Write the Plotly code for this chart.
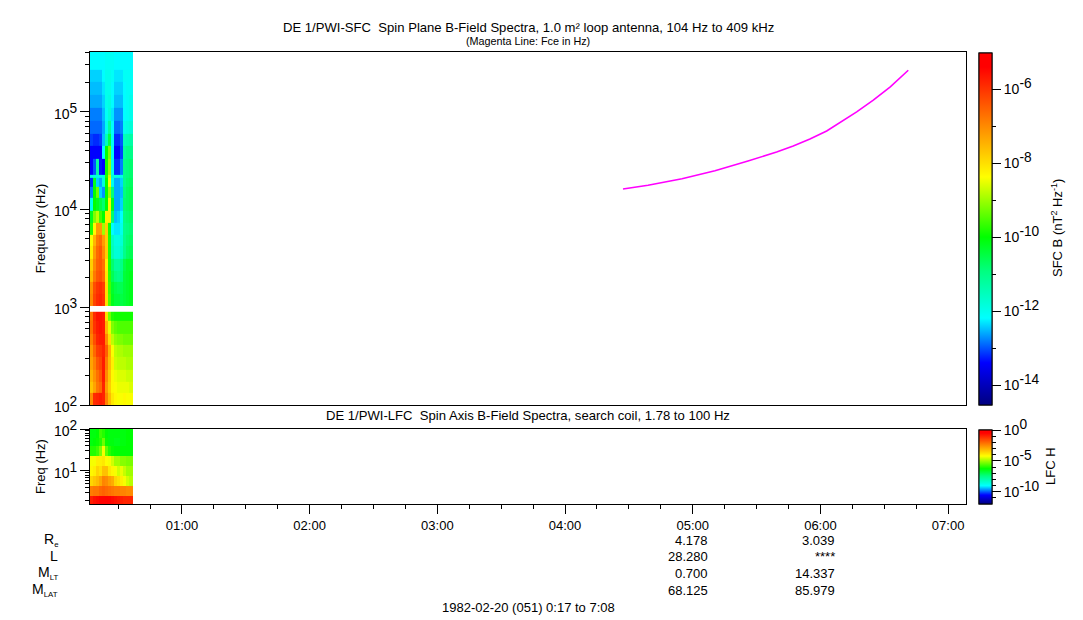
import plotly.graph_objects as go

# ---- data ----
HOUR_TICKS = [1, 2, 3, 4, 5, 6, 7]
HOUR_LABELS = ["01:00", "02:00", "03:00", "04:00", "05:00", "06:00", "07:00"]
TIME_RANGE = [0.28, 7.14]
TIME_EDGES = [0.28, 0.304, 0.327, 0.351, 0.374, 0.398, 0.421, 0.445, 0.468, 0.492, 0.515, 0.539, 0.562, 0.586, 0.617]

SFC_FREQ_EDGES = [100, 132, 174, 230, 309, 410, 540, 720, 889, 1023, 1360, 1800, 2380, 3160, 4200,
                  5560, 7370, 9790, 12990, 17200, 21000, 22600, 33000, 45000, 60000, 80000,
                  110000, 150000, 200000, 270000, 409000]
SFC_LOG_POWER = [
    [-7.0, -5.9, -5.8, -5.7, -5.8, -6.9, -7.6, -8.1, -8.3, -8.4, -8.4, -8.3, -8.4, -8.4],
    [-7.7, -7.3, -6.8, -6.6, -5.8, -7.2, -7.8, -8.3, -8.4, -8.5, -8.5, -8.5, -8.5, -8.6],
    [-7.5, -7.1, -6.7, -6.4, -5.7, -7.0, -7.7, -8.3, -8.5, -8.6, -8.6, -8.6, -8.7, -8.7],
    [-7.3, -6.9, -6.4, -6.2, -5.7, -6.8, -7.6, -8.2, -8.7, -8.8, -8.8, -8.8, -8.9, -8.9],
    [-7.2, -6.6, -6.1, -6.0, -5.8, -6.5, -7.5, -8.4, -8.8, -8.9, -8.9, -9.0, -9.0, -9.0],
    [-6.9, -6.3, -5.8, -5.7, -5.7, -7.0, -8.0, -8.8, -9.1, -9.2, -9.2, -9.3, -9.3, -9.3],
    [-6.7, -6.0, -5.7, -5.6, -5.7, -7.5, -8.5, -9.2, -9.4, -9.5, -9.5, -9.5, -9.5, -9.5],
    [-6.8, -5.9, -5.6, -5.6, -5.7, -8.0, -9.3, -9.8, -9.9, -9.9, -9.9, -9.9, -9.9, -9.9],
    [None] * 14,
    [-7.0, -6.2, -5.9, -5.8, -6.0, -8.0, -9.5, -10.2, -10.4, -10.4, -10.5, -10.4, -10.3, -10.2],
    [-7.1, -6.3, -6.0, -5.9, -6.1, -8.0, -9.6, -10.3, -10.5, -10.6, -10.6, -10.4, -10.3, -10.2],
    [-7.6, -6.8, -6.4, -6.3, -6.6, -8.1, -9.7, -10.6, -10.9, -11.0, -10.9, -10.4, -10.3, -10.2],
    [-7.8, -7.0, -6.5, -6.4, -6.7, -8.2, -9.8, -10.8, -11.2, -11.2, -11.0, -10.5, -10.3, -10.3],
    [-8.2, -7.2, -6.6, -6.4, -7.0, -7.8, -9.8, -11.5, -11.8, -11.8, -11.6, -11.0, -10.7, -10.6],
    [-8.4, -7.5, -6.8, -6.6, -7.2, -7.8, -9.8, -11.6, -11.9, -11.9, -11.8, -11.0, -10.8, -10.7],
    [-9.8, -8.3, -7.2, -7.2, -9.0, -7.8, -9.9, -12.2, -12.3, -12.3, -12.0, -11.0, -10.9, -10.8],
    [-10.2, -9.2, -8.8, -9.6, -10.0, -8.2, -8.2, -10.8, -12.5, -12.4, -12.2, -10.9, -10.8, -10.7],
    [-12.0, -10.0, -10.2, -10.5, -10.8, -10.0, -8.3, -10.2, -12.6, -12.6, -12.4, -10.8, -10.7, -10.6],
    [-12.8, -10.0, -9.3, -12.4, -12.7, -10.0, -9.0, -10.9, -12.6, -12.6, -12.5, -10.9, -10.7, -10.6],
    [-13.2, -10.2, -12.4, -12.6, -11.8, -10.0, -8.4, -12.0, -12.6, -12.6, -12.4, -11.0, -10.8, -10.7],
    [-11.9, -11.9, -11.9, -11.9, -11.9, -9.8, -8.6, -11.8, -11.9, -11.9, -11.9, -11.0, -10.9, -10.8],
    [-13.4, -13.0, -11.3, -13.3, -13.4, -9.9, -9.0, -12.0, -13.2, -13.2, -12.8, -11.0, -10.9, -10.8],
    [-13.4, -13.4, -13.4, -13.4, -12.2, -10.0, -9.2, -12.1, -13.4, -13.4, -13.1, -11.2, -11.0, -11.0],
    [-13.1, -13.2, -13.2, -13.1, -12.5, -11.5, -10.5, -12.1, -13.2, -13.2, -13.0, -11.5, -11.4, -11.3],
    [-12.9, -12.9, -12.9, -12.9, -12.6, -12.0, -11.2, -12.2, -12.9, -12.9, -12.8, -12.0, -11.9, -11.8],
    [-12.8, -12.8, -12.8, -12.8, -12.5, -12.1, -11.8, -12.3, -12.7, -12.7, -12.7, -12.2, -12.1, -12.0],
    [-12.6, -12.6, -12.6, -12.6, -12.4, -12.0, -11.9, -12.2, -12.5, -12.5, -12.5, -12.2, -12.1, -12.0],
    [-12.5, -12.5, -12.5, -12.5, -12.3, -12.0, -12.0, -12.2, -12.4, -12.4, -12.4, -12.2, -12.1, -12.1],
    [-12.4, -12.4, -12.4, -12.4, -12.2, -12.0, -12.0, -12.1, -12.3, -12.3, -12.3, -12.1, -12.1, -12.1],
    [-12.2, -12.2, -12.2, -12.2, -12.2, -12.1, -12.1, -12.1, -12.2, -12.2, -12.2, -12.2, -12.2, -12.2],
]

LFC_FREQ_EDGES = [1.63, 2.54, 4.4, 7.6, 13.1, 22.8, 39, 60, 100]
LFC_LOG_POWER = [
    [-0.9, -0.7, -0.6, -0.5, -0.5, -0.4, -0.5, -0.6, -0.7, -0.8, -0.9, -1.0, -1.0, -1.0],
    [-2.3, -2.2, -2.2, -2.0, -1.9, -2.0, -2.1, -2.2, -2.3, -2.3, -2.4, -2.4, -2.5, -2.5],
    [-3.6, -3.4, -3.2, -2.9, -2.4, -2.5, -2.8, -3.0, -3.6, -3.8, -4.0, -4.3, -4.6, -4.8],
    [-4.1, -4.0, -3.6, -3.8, -3.3, -3.3, -3.9, -4.1, -4.3, -4.6, -4.4, -4.7, -5.0, -5.0],
    [-4.3, -4.3, -4.0, -4.0, -3.9, -4.2, -4.3, -4.6, -5.0, -5.0, -5.2, -5.2, -5.3, -5.3],
    [-6.0, -6.0, -5.8, -5.3, -4.3, -5.5, -6.0, -6.2, -6.3, -6.3, -6.3, -6.3, -6.3, -6.3],
    [-6.4, -6.3, -6.2, -6.0, -5.4, -6.2, -6.4, -6.4, -6.5, -6.5, -6.4, -6.4, -6.3, -6.3],
    [-6.4, -6.4, -6.3, -5.8, -6.0, -6.3, -6.4, -6.4, -6.4, -6.4, -6.4, -6.4, -6.3, -6.3],
]

FCE_HOURS = [4.454, 4.650, 4.916, 5.174, 5.433, 5.527, 5.657, 5.787, 5.918, 6.049, 6.153, 6.284, 6.414, 6.547, 6.688]
FCE_HZ = [16180, 17660, 20620, 24880, 31280, 34040, 38630, 44500, 52400, 63500, 77300, 99500, 130900, 179000, 264900]

SUP = '<sup><span style="font-size:140%">{}</span></sup>'
SUB = '<sub><span style="font-size:80%">{}</span></sub>'

ROW_NAMES = ["R" + SUB.format("e"), "L", "M" + SUB.format("LT"), "M" + SUB.format("LAT")]
ROW_HOURS = [5, 6]
ROW_VALUES = [["4.178", "3.039"], ["28.280", "****"], ["0.700", "14.337"], ["68.125", "85.979"]]

SFC_CB_MAJOR = [-6, -8, -10, -12, -14]
SFC_CB_MINOR = [-7, -9, -11, -13]
LFC_CB_MAJOR = [0, -5, -10]
LFC_CB_MINOR = [-1, -2, -3, -4, -6, -7, -8, -9, -11]

RAINBOW = [[0.0, "#00007f"], [0.12, "#0000ff"], [0.247, "#00ffff"], [0.38, "#00ff80"], [0.477, "#00ff00"],
           [0.648, "#ffff00"], [0.79, "#ff8c00"], [0.96, "#ff0000"], [1.0, "#ff0000"]]

# ---- layout in pixels of the 1083x620 page ----
W, H = 1083, 620
L, R, T, B = 90, 966, 52, 504
PLOT_H = B - T
FONT = "Liberation Sans"


def py(pixel):
    return (B - pixel) / PLOT_H


def px(pixel):
    return (pixel - L) / (R - L)


def power_label(exp):
    return "10" + SUP.format(exp)


def colorbar(y, length, vals, labelled):
    return dict(x=px(979), xanchor="left", xpad=0, y=y, yanchor="bottom", ypad=0,
                len=length, lenmode="pixels", thickness=13, thicknessmode="pixels",
                outlinecolor="black", outlinewidth=1, ticks="outside", ticklen=9 if labelled else 4,
                tickcolor="black", tickmode="array", tickvals=vals,
                ticktext=[power_label(v) for v in vals] if labelled else [""] * len(vals),
                tickfont=dict(family=FONT, size=14, color="black"))


fig = go.Figure()
# each spectrogram is drawn twice so its colour bar can carry long labelled ticks and short unlabelled ones
for vals, labelled in ((SFC_CB_MINOR, False), (SFC_CB_MAJOR, True)):
    fig.add_trace(go.Heatmap(x=TIME_EDGES, y=SFC_FREQ_EDGES, z=SFC_LOG_POWER, zmin=-14.54, zmax=-5.02,
                             colorscale=RAINBOW, hoverongaps=False, xaxis="x", yaxis="y",
                             colorbar=colorbar(py(405), 352, vals, labelled)))
for vals, labelled in ((LFC_CB_MINOR, False), (LFC_CB_MAJOR, True)):
    fig.add_trace(go.Heatmap(x=TIME_EDGES, y=LFC_FREQ_EDGES, z=LFC_LOG_POWER, zmin=-12, zmax=0,
                             colorscale=RAINBOW, hoverongaps=False, xaxis="x2", yaxis="y2",
                             colorbar=colorbar(0, 74, vals, labelled)))
fig.add_trace(go.Scatter(x=FCE_HOURS, y=FCE_HZ, mode="lines", line=dict(color="#ff00ff", width=1.6),
                         xaxis="x", yaxis="y", showlegend=False))

annos = [
    dict(text="DE 1/PWI-SFC  Spin Plane B-Field Spectra, 1.0 m² loop antenna, 104 Hz to 409 kHz",
         x=px(528), y=py(27), size=13.1),
    dict(text="(Magenta Line: Fce in Hz)", x=px(528), y=py(41), size=10.8),
    dict(text="DE 1/PWI-LFC  Spin Axis B-Field Spectra, search coil, 1.78 to 100 Hz",
         x=px(528), y=py(415), size=13.1),
    dict(text="1982-02-20 (051) 0:17 to 7:08", x=px(528), y=py(607), size=13),
    dict(text="SFC B (nT<sup>2</sup> Hz<sup>-1</sup>)", x=px(1057), y=py(228), size=13, textangle=-90),
    dict(text="LFC H", x=px(1050), y=py(466), size=13, textangle=-90),
]
annotations = [dict(xref="paper", yref="paper", xanchor="center", yanchor="middle", showarrow=False,
                    text=a["text"], x=a["x"], y=a["y"], textangle=a.get("textangle", 0),
                    font=dict(family=FONT, size=a["size"], color="black")) for a in annos]

ROW_Y = [540, 556, 573, 590]
for name, row_y, vals in zip(ROW_NAMES, ROW_Y, ROW_VALUES):
    annotations.append(dict(xref="paper", yref="paper", x=px(60), y=py(row_y), xanchor="right", yanchor="middle",
                            showarrow=False, text=name, font=dict(family=FONT, size=14, color="black")))
    for hour, val in zip(ROW_HOURS, vals):
        annotations.append(dict(xref="x2", yref="paper", x=hour, y=py(row_y), xanchor="right", yanchor="middle",
                                xshift=17, showarrow=False, text=val, font=dict(family=FONT, size=13, color="black")))

axis_common = dict(showgrid=False, zeroline=False, showline=True, linecolor="black", linewidth=1, mirror=True)
tickfont_y = dict(family=FONT, size=14, color="black")
title_font = dict(family=FONT, size=13, color="black")

fig.update_layout(
    width=W, height=H, autosize=False, paper_bgcolor="white", plot_bgcolor="white", showlegend=False,
    margin=dict(l=L, r=W - R, t=T, b=H - B, pad=0),
    xaxis=dict(domain=[0, 1], range=TIME_RANGE, anchor="y", showticklabels=False, ticks="", **axis_common),
    yaxis=dict(domain=[py(405), 1], type="log", range=[2, 5.61], anchor="x", tickmode="array",
               tickvals=[100, 1000, 10000, 100000],
               ticktext=[power_label(2), power_label(3), power_label(4), power_label(5)],
               ticks="outside", ticklen=9, tickcolor="black", tickfont=tickfont_y, ticklabelshift=2,
               minor=dict(ticks="outside", ticklen=4, dtick="D1", tickcolor="black", showgrid=False),
               title=dict(text="Frequency (Hz)", font=title_font, standoff=5), **axis_common),
    xaxis2=dict(domain=[0, 1], range=TIME_RANGE, anchor="y2", tickmode="array", tickvals=HOUR_TICKS,
                ticktext=HOUR_LABELS, ticks="outside", ticklen=9, tickcolor="black",
                tickfont=dict(family=FONT, size=13, color="black"),
                minor=dict(ticks="outside", ticklen=4, dtick=0.25, tick0=0, tickcolor="black", showgrid=False),
                **axis_common),
    yaxis2=dict(domain=[0, py(429)], type="log", range=[0.212, 2.0], anchor="x2", tickmode="array",
                tickvals=[10, 100], ticktext=[power_label(1), power_label(2)],
                ticks="outside", ticklen=9, tickcolor="black", tickfont=tickfont_y, ticklabelshift=2,
                minor=dict(ticks="outside", ticklen=4, dtick="D1", tickcolor="black", showgrid=False),
                title=dict(text="Freq (Hz)", font=title_font, standoff=5), **axis_common),
    annotations=annotations,
)

fig.write_html("out.html", config={"displayModeBar": False}, post_script="document.body.style.margin='0';")
